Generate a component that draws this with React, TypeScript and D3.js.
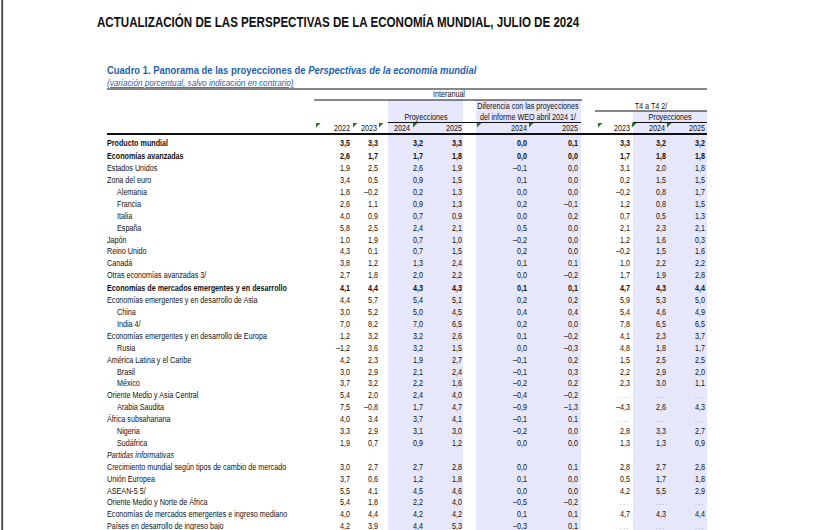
import React from "react";
import * as d3 from "d3";

const titleText = "ACTUALIZACIÓN DE LAS PERSPECTIVAS DE LA ECONOMÍA MUNDIAL, JULIO DE 2024";
const tableTitleA = "Cuadro 1. Panorama de las proyecciones de ";
const tableTitleB = "Perspectivas de la economía mundial";
const tableSubtitle = "(variación porcentual, salvo indicación en contrario)";

const rowLabels = [
  "Producto mundial",
  "Economías avanzadas",
  "Estados Unidos",
  "Zona del euro",
  "Alemania",
  "Francia",
  "Italia",
  "España",
  "Japón",
  "Reino Unido",
  "Canadá",
  "Otras economías avanzadas 3/",
  "Economías de mercados emergentes y en desarrollo",
  "Economías emergentes y en desarrollo de Asia",
  "China",
  "India 4/",
  "Economías emergentes y en desarrollo de Europa",
  "Rusia",
  "América Latina y el Caribe",
  "Brasil",
  "México",
  "Oriente Medio y Asia Central",
  "Arabia Saudita",
  "África subsahariana",
  "Nigeria",
  "Sudáfrica",
  "Partidas informativas",
  "Crecimiento mundial según tipos de cambio de mercado",
  "Unión Europea",
  "ASEAN-5 5/",
  "Oriente Medio y Norte de África",
  "Economías de mercados emergentes e ingreso mediano",
  "Países en desarrollo de ingreso bajo",
];

const indentedRows = [
  "Alemania", "Francia", "Italia", "España", "China", "India 4/", "Rusia",
  "Brasil", "México", "Arabia Saudita", "Nigeria", "Sudáfrica",
];
const boldRows = [
  "Producto mundial",
  "Economías avanzadas",
  "Economías de mercados emergentes y en desarrollo",
];
const sectionRows = ["Partidas informativas"];

// null = "..." (not available); section row has no values
const yoy2022 = [3.5, 2.6, 1.9, 3.4, 1.8, 2.6, 4.0, 5.8, 1.0, 4.3, 3.8, 2.7, 4.1, 4.4, 3.0, 7.0, 1.2, -1.2, 4.2, 3.0, 3.7, 5.4, 7.5, 4.0, 3.3, 1.9, null, 3.0, 3.7, 5.5, 5.4, 4.0, 4.2];
const yoy2023 = [3.3, 1.7, 2.5, 0.5, -0.2, 1.1, 0.9, 2.5, 1.9, 0.1, 1.2, 1.8, 4.4, 5.7, 5.2, 8.2, 3.2, 3.6, 2.3, 2.9, 3.2, 2.0, -0.8, 3.4, 2.9, 0.7, null, 2.7, 0.6, 4.1, 1.8, 4.4, 3.9];
const proj2024 = [3.2, 1.7, 2.6, 0.9, 0.2, 0.9, 0.7, 2.4, 0.7, 0.7, 1.3, 2.0, 4.3, 5.4, 5.0, 7.0, 3.2, 3.2, 1.9, 2.1, 2.2, 2.4, 1.7, 3.7, 3.1, 0.9, null, 2.7, 1.2, 4.5, 2.2, 4.2, 4.4];
const proj2025 = [3.3, 1.8, 1.9, 1.5, 1.3, 1.3, 0.9, 2.1, 1.0, 1.5, 2.4, 2.2, 4.3, 5.1, 4.5, 6.5, 2.6, 1.5, 2.7, 2.4, 1.6, 4.0, 4.7, 4.1, 3.0, 1.2, null, 2.8, 1.8, 4.6, 4.0, 4.2, 5.3];
const diff2024 = [0.0, 0.0, -0.1, 0.1, 0.0, 0.2, 0.0, 0.5, -0.2, 0.2, 0.1, 0.0, 0.1, 0.2, 0.4, 0.2, 0.1, 0.0, -0.1, -0.1, -0.2, -0.4, -0.9, -0.1, -0.2, 0.0, null, 0.0, 0.1, 0.0, -0.5, 0.1, -0.3];
const diff2025 = [0.1, 0.0, 0.0, 0.0, 0.0, -0.1, 0.2, 0.0, 0.0, 0.0, 0.1, -0.2, 0.1, 0.2, 0.4, 0.0, -0.2, -0.3, 0.2, 0.3, 0.2, -0.2, -1.3, 0.1, 0.0, 0.0, null, 0.1, 0.0, 0.0, -0.2, 0.1, 0.1];
const q4q2023 = [3.3, 1.7, 3.1, 0.2, -0.2, 1.2, 0.7, 2.1, 1.2, -0.2, 1.0, 1.7, 4.7, 5.9, 5.4, 7.8, 4.1, 4.8, 1.5, 2.2, 2.3, null, -4.3, null, 2.8, 1.3, null, 2.8, 0.5, 4.2, null, 4.7, null];
const q4q2024 = [3.2, 1.8, 2.0, 1.5, 0.8, 0.8, 0.5, 2.3, 1.6, 1.5, 2.2, 1.9, 4.3, 5.3, 4.6, 6.5, 2.3, 1.8, 2.5, 2.9, 3.0, null, 2.6, null, 3.3, 1.3, null, 2.7, 1.7, 5.5, null, 4.3, null];
const q4q2025 = [3.2, 1.8, 1.8, 1.5, 1.7, 1.5, 1.3, 2.1, 0.3, 1.6, 2.2, 2.8, 4.4, 5.0, 4.9, 6.5, 3.7, 1.7, 2.5, 2.0, 1.1, null, 4.3, null, 2.7, 0.9, null, 2.8, 1.8, 2.9, null, 4.4, null];

const columnKeys = ["y22", "y23", "p24", "p25", "d24", "d25", "q23", "q24", "q25"];
const columnHeaders = ["2022", "2023", "2024", "2025", "2024", "2025", "2023", "2024", "2025"];
const columnSeries = [yoy2022, yoy2023, proj2024, proj2025, diff2024, diff2025, q4q2023, q4q2024, q4q2025];

const W = 815;
const H = 530;
const SANS = "'Liberation Sans',Arial,sans-serif";
const BLUE = "#1F5FAE";
const SHADE = "#E7E7FB";
const GREEN = "#1E7B1E";
const NS = 0.8; // narrow scale

const xValueRight = d3.scaleOrdinal<string, number>().domain(columnKeys).range([350, 378, 423, 462, 527, 578, 630, 666, 705]);
const xHeaderRight = d3.scaleOrdinal<string, number>().domain(columnKeys).range([350, 377, 410, 462, 527, 578, 630, 665, 705]);
const xCellLeft = d3.scaleOrdinal<string, number>().domain(columnKeys).range([316, 353, 379, 413, 477, 529, 598, 632, 667]);

const fmt = d3.format(".1f");
function fmtVal(v: number): string {
  const s = fmt(Math.abs(v)).replace(".", ",");
  return v < 0 ? "\u2013" + s : s;
}

function NText(props: any) {
  const { x, y, sx = NS, anchor = "start", children, ...rest } = props;
  return (
    <text transform={`translate(${x},${y}) scale(${sx},1)`} textAnchor={anchor} {...rest}>
      {children}
    </text>
  );
}

export default function App() {
  const step = 11.9;
  const rowCenters: number[] = [];
  let y = 143;
  rowLabels.forEach((lab, i) => {
    if (i > 0) {
      y += step;
      if (boldRows.includes(lab)) y += 1.1;
    }
    rowCenters.push(y);
  });
  const rowY = d3.scaleOrdinal<string, number>().domain(rowLabels).range(rowCenters);

  const fs = 9;
  return (
    <svg width={W} height={H} style={{ position: "absolute", left: 0, top: 0, background: "#fff" }}>
      <rect x={0} y={0} width={W} height={H} fill="#fff" />
      <rect x={1.3} y={0} width={1.8} height={H} fill="#444" />

      <rect x={388} y={100} width={75} height={H - 100} fill={SHADE} />
      <rect x={476} y={100} width={105} height={H - 100} fill={SHADE} />
      <rect x={633} y={111} width={74} height={H - 111} fill={SHADE} />

      <NText x={97} y={27} sx={0.773} fontFamily={SANS} fontWeight="bold" fontSize={15} fill="#111">{titleText}</NText>
      <NText x={107} y={74} sx={0.86} fontFamily={SANS} fontWeight="bold" fontSize={11} fill={BLUE}>
        {tableTitleA}<tspan fontStyle="italic">{tableTitleB}</tspan>
      </NText>
      <text x={107} y={86} fontFamily={SANS} fontStyle="italic" fontSize={8.2} fill={BLUE} textDecoration="underline">{tableSubtitle}</text>

      <line x1={107} x2={707} y1={89} y2={89} stroke="#111" strokeWidth={1.2} />
      <line x1={314} x2={582} y1={100} y2={100} stroke="#111" strokeWidth={1} />
      <line x1={595} x2={707} y1={111} y2={111} stroke="#111" strokeWidth={1} />
      <line x1={388} x2={581} y1={122.5} y2={122.5} stroke="#111" strokeWidth={1} />
      <line x1={633} x2={707} y1={122.5} y2={122.5} stroke="#111" strokeWidth={1} />
      <line x1={107} x2={707} y1={134} y2={134} stroke="#111" strokeWidth={2} />

      <g fontFamily={SANS} fontSize={fs} fill="#111">
        <NText x={449} y={97} anchor="middle">Interanual</NText>
        <NText x={426} y={120} anchor="middle">Proyecciones</NText>
        <NText x={528} y={109} anchor="middle">Diferencia con las proyecciones</NText>
        <NText x={528} y={120} anchor="middle">del informe WEO abril 2024 1/</NText>
        <NText x={651} y={109} anchor="middle">T4 a T4 2/</NText>
        <NText x={670} y={120} anchor="middle">Proyecciones</NText>
      </g>

      <g fontFamily={SANS} fontSize={fs} fill="#111">
        {columnKeys.map((k, i) => (
          <NText key={k} x={xHeaderRight(k)} y={131} anchor="end">{columnHeaders[i]}</NText>
        ))}
        {columnKeys.map((k) => {
          const x0 = xCellLeft(k);
          return <path key={"t" + k} d={`M${x0},123 L${x0 + 4.5},123 L${x0},127.5 Z`} fill={GREEN} />;
        })}
      </g>

      <g fontFamily={SANS} fontSize={fs} fill="#111">
        {rowLabels.map((lab, i) => {
          const yb = rowY(lab) + 3.2;
          const bold = boldRows.includes(lab);
          const section = sectionRows.includes(lab);
          const x = indentedRows.includes(lab) ? 117 : 107;
          return (
            <g key={lab} fontWeight={bold ? "bold" : "normal"}>
              <NText x={x} y={yb} fontStyle={section ? "italic" : "normal"}>{lab}</NText>
              {!section && columnKeys.map((k, j) => {
                const v = columnSeries[j][i];
                return v === null ? (
                  <text key={k} x={xValueRight(k)} y={yb - 0.5} textAnchor="end" fill="#888" fontSize={6.5} letterSpacing={1.6}>...</text>
                ) : (
                  <NText key={k} x={xValueRight(k)} y={yb} anchor="end">{fmtVal(v)}</NText>
                );
              })}
            </g>
          );
        })}
      </g>
    </svg>
  );
}
